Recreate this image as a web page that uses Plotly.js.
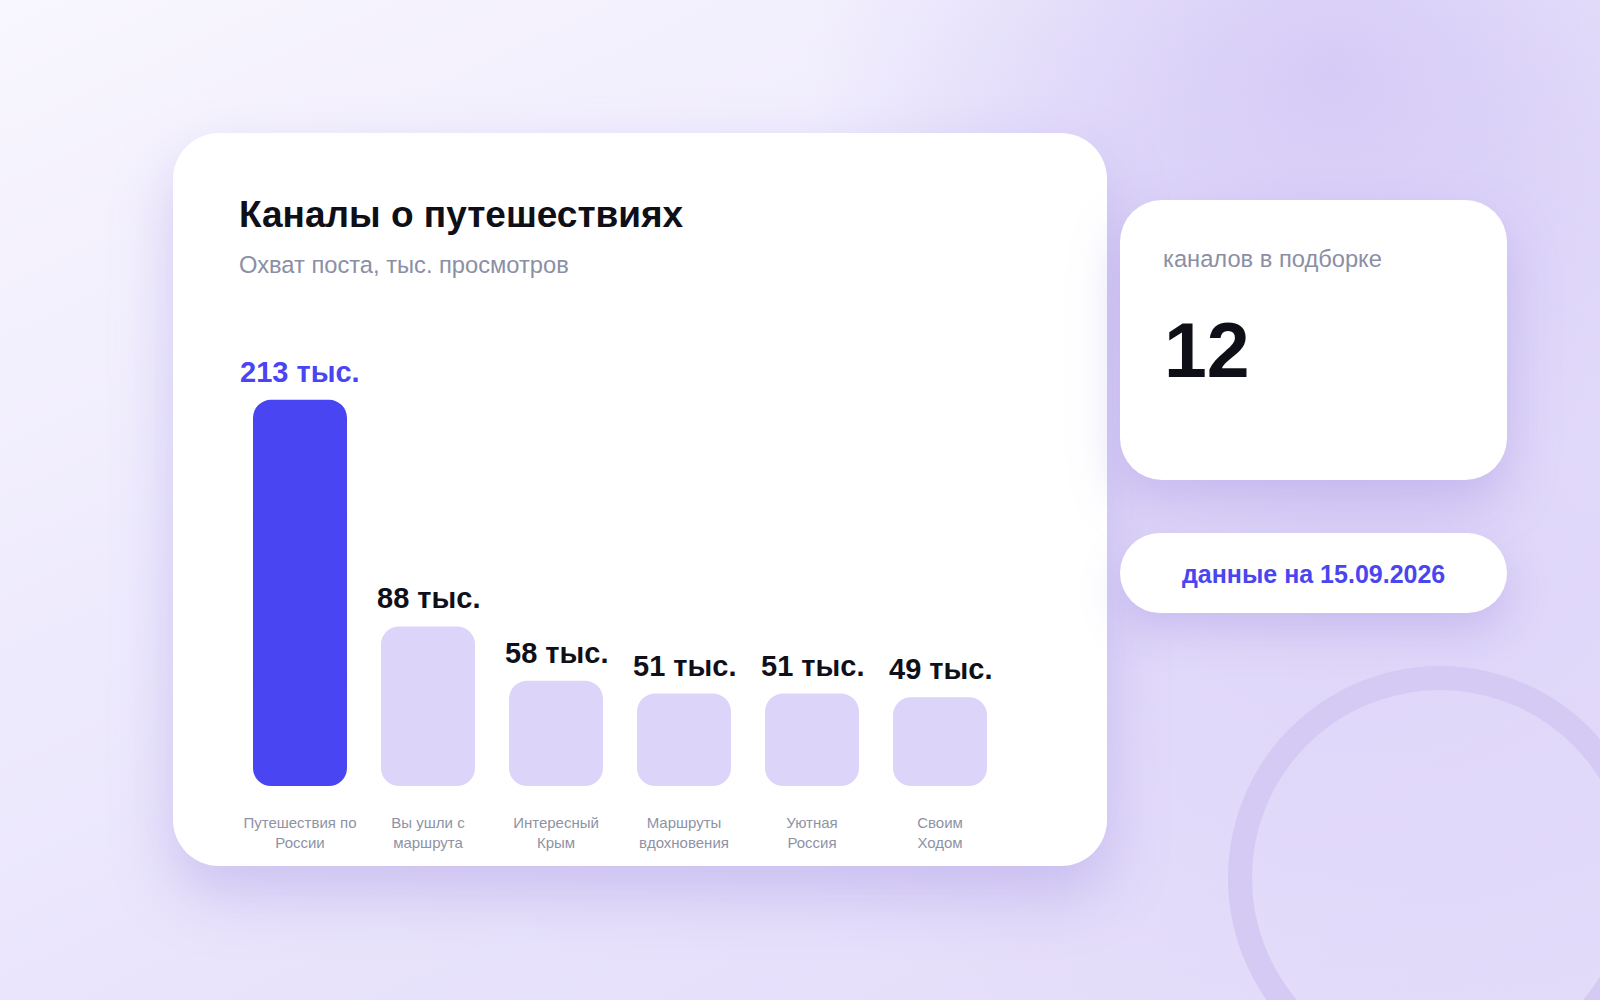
<!DOCTYPE html>
<html>
<head>
<meta charset="utf-8">
<script src="https://cdn.plot.ly/plotly-3.0.1.min.js"></script>
<style>
  html, body { margin:0; padding:0; width:1600px; height:1000px; overflow:hidden; }
  body {
    background:
      radial-gradient(ellipse 520px 420px at 1330px 70px, rgba(200,186,243,0.6), rgba(200,186,243,0) 100%),
      radial-gradient(ellipse 700px 600px at 1350px 500px, rgba(214,202,246,0.6), rgba(214,202,246,0) 100%),
      linear-gradient(155deg, #F8F6FE 0%, #EEEAFD 40%, #E6E0FB 75%, #E3DCFA 100%);
    font-family: "Liberation Sans", Arial, sans-serif;
  }
  .card { position:absolute; background:#FFFFFF; }
  #main { left:173px; top:133px; width:934px; height:733px; border-radius:46px;
          box-shadow: 0 28px 60px rgba(150,130,220,0.35); }
  #stat { left:1120px; top:200px; width:387px; height:280px; border-radius:42px;
          box-shadow: 0 24px 50px rgba(150,130,220,0.35); }
  #pill { left:1120px; top:533px; width:387px; height:80px; border-radius:40px;
          box-shadow: 0 18px 40px rgba(150,130,220,0.30); }
  #chart { position:absolute; left:0; top:0; width:1600px; height:1000px; z-index:5; }
</style>
</head>
<body>
<div class="card" id="main"></div>
<div class="card" id="stat"></div>
<div class="card" id="pill"></div>
<div id="chart"></div>
<script>
// ---- data ----
const channels = [
  "Путешествия по<br>России",
  "Вы ушли с<br>маршрута",
  "Интересный<br>Крым",
  "Маршруты<br>вдохновения",
  "Уютная<br>Россия",
  "Своим<br>Ходом"
];
const reach = [213, 88, 58, 51, 51, 49]; // тыс. просмотров
const unitLabel = "тыс.";
const titleText = "Каналы о путешествиях";
const subtitleText = "Охват поста, тыс. просмотров";
const statLabel = "каналов в подборке";
const statValue = "12";
const dateText = "данные на 15.09.2026";

// ---- styles ----
const BLUE = "#4A45F3";
const LIGHT = "#DDD4F9";
const FONT = "Liberation Sans, Arial, sans-serif";
const barColors = reach.map((v, i) => i === 0 ? BLUE : LIGHT);

// plot area in pixels
const L = 236, R = 1004, T = 340, B = 786;
const px = x => (x - L) / (R - L);
const py = y => (B - y) / (B - T);

// two generously overlapping halves so every bar is rounded on both ends
const upper = {
  type: "bar", x: channels, y: reach.map(v => v * 0.75), base: reach.map(v => v * 0.25),
  marker: { color: barColors, cornerradius: 18, line: { width: 0 } },
  hoverinfo: "skip", showlegend: false
};
const lower = {
  type: "bar", x: channels, y: reach.map(v => -v * 0.75), base: reach.map(v => v * 0.75),
  marker: { color: barColors, cornerradius: 18, line: { width: 0 } },
  hoverinfo: "skip", showlegend: false
};

const valueAnn = reach.map((v, i) => ({
  x: channels[i], y: v, xref: "x", yref: "y",
  text: "<b>" + v + " " + unitLabel + "</b>", showarrow: false,
  xanchor: "center", yanchor: "bottom", yshift: 12,
  borderpad: 0, borderwidth: 0,
  font: { family: FONT, size: 29, color: i === 0 ? BLUE : "#0F1019" }
}));

function textAnn(text, x, yc, size, color, anchor) {
  return {
    text: text, xref: "paper", yref: "paper", x: px(x), y: py(yc),
    xanchor: anchor || "left", yanchor: "middle", showarrow: false,
    borderpad: 0, borderwidth: 0,
    font: { family: FONT, size: size, color: color }
  };
}

const annotations = valueAnn.concat([
  textAnn("<b>" + titleText + "</b>", 239, 214, 37, "#0E0F17"),
  textAnn(subtitleText, 239, 265, 23.7, "#8B8FA5"),
  textAnn(statLabel, 1163, 259, 23.7, "#8B8FA5"),
  textAnn("<b>" + statValue + "</b>", 1164, 350, 77, "#0E0F17"),
  textAnn("<b>" + dateText + "</b>", 1313, 574, 25, "#4A45F0", "center")
]);

const shapes = [{
  type: "circle", xref: "paper", yref: "paper", layer: "below",
  x0: px(1440 - 200), x1: px(1440 + 200), y0: py(878 + 200), y1: py(878 - 200),
  line: { color: "#D4CAF3", width: 24 }, fillcolor: "rgba(0,0,0,0)"
}];

const layout = {
  width: 1600, height: 1000,
  margin: { l: L, r: 1600 - R, t: T, b: 1000 - B, pad: 0 },
  paper_bgcolor: "rgba(0,0,0,0)", plot_bgcolor: "rgba(0,0,0,0)",
  barmode: "overlay", bargap: 0.265625,
  font: { family: FONT },
  xaxis: {
    type: "category", range: [-0.5, 5.5], showgrid: false, zeroline: false, showline: false,
    ticks: "outside", ticklen: 23, tickcolor: "rgba(0,0,0,0)",
    tickfont: { family: FONT, size: 15, color: "#8E92A5" }, fixedrange: true
  },
  yaxis: {
    range: [0, 246], visible: false, showgrid: false, zeroline: false, fixedrange: true
  },
  annotations: annotations,
  shapes: shapes
};

Plotly.newPlot("chart", [lower, upper], layout, { displayModeBar: false, staticPlot: true });
</script>
</body>
</html>
